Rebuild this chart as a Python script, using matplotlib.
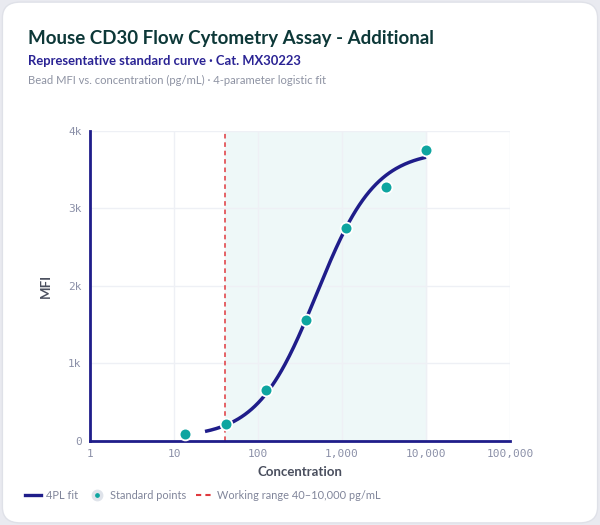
import numpy as np
import matplotlib
matplotlib.use("Agg")
import matplotlib.pyplot as plt
from matplotlib.patches import FancyBboxPatch
from matplotlib.lines import Line2D
from matplotlib.ticker import FixedLocator, FixedFormatter

# standard points (3-fold dilution series)
conc = [13.7, 41.2, 123.5, 370.4, 1111, 3333, 10000]
mfi = [86, 224, 663, 1561, 2748, 3283, 3755]

# 4PL fit parameters (bottom, slope, EC50, top) estimated from the drawn curve
fit_bottom, fit_slope, fit_ec50, fit_top = 40, 1.235, 497, 3750
fit_range = [23.4, 10000]

working_range = [40, 10000]

x_ticks = [1, 10, 100, 1000, 10000, 100000]
x_labels = ["1", "10", "100", "1,000", "10,000", "100,000"]
y_ticks = [0, 1000, 2000, 3000, 4000]
y_labels = ["0", "1k", "2k", "3k", "4k"]

navy = "#1f1d8a"
teal = "#0ea5a0"
red = "#e0393e"
tick_gray = "#8b90a8"

fig = plt.figure(figsize=(6, 5.25), dpi=100)
fig.patch.set_facecolor("#e9eaf0")
card = FancyBboxPatch((0.004, 0.004), 0.992, 0.992,
                      boxstyle="round,pad=0,rounding_size=0.03",
                      transform=fig.transFigure, facecolor="white",
                      edgecolor="#dfe1e8", linewidth=1, zorder=-1)
fig.patches.append(card)

fig.text(0.046, 0.916, "Mouse CD30 Flow Cytometry Assay - Additional",
         fontsize=13.5, fontweight="bold", color="#0d3838", family="Lato")
fig.text(0.046, 0.876, "Representative standard curve · Cat. MX30223",
         fontsize=9.4, fontweight="bold", color="#2a2394", family="Lato")
fig.text(0.046, 0.840, "Bead MFI vs. concentration (pg/mL) · 4-parameter logistic fit",
         fontsize=8.1, color="#8e93a3", family="Lato")

ax = fig.add_axes([0.15, 0.16, 0.70, 0.5905])
ax.set_facecolor("none")
ax.set_xscale("log")
ax.set_xlim(1, 100000)
ax.set_ylim(0, 4000)

ax.axvspan(working_range[0], working_range[1], color="#eef8f8", zorder=0)
ax.axvline(working_range[0], color=red, linestyle=(0, (3, 2.5)), linewidth=1.1, zorder=2)

xs = np.logspace(np.log10(fit_range[0]), np.log10(fit_range[1]), 200)
ys = fit_top + (fit_bottom - fit_top) / (1 + (xs / fit_ec50) ** fit_slope)
ax.plot(xs, ys, color=navy, linewidth=2.5, solid_capstyle="butt", zorder=3)
ax.scatter(conc, mfi, s=72, color=teal, edgecolor="white", linewidth=1.3, zorder=4)

ax.xaxis.set_major_locator(FixedLocator(x_ticks))
ax.xaxis.set_major_formatter(FixedFormatter(x_labels))
ax.xaxis.set_minor_locator(FixedLocator([]))
ax.set_yticks(y_ticks)
ax.set_yticklabels(y_labels)
ax.tick_params(length=0, labelsize=8, labelcolor=tick_gray, pad=6)
for lab in ax.get_xticklabels() + ax.get_yticklabels():
    lab.set_family("DejaVu Sans Mono")
ax.grid(True, color="#eef0f5", linewidth=1, zorder=0)
ax.set_axisbelow(True)

for side in ["top", "right"]:
    ax.spines[side].set_visible(False)
ax.spines["left"].set_color(navy)
ax.spines["left"].set_linewidth(2)
ax.spines["bottom"].set_color(navy)
ax.spines["bottom"].set_linewidth(2)

ax.set_xlabel("Concentration", fontsize=9.5, fontweight="bold", color="#4a4f5e",
              family="Lato", labelpad=5)
ax.set_ylabel("MFI", fontsize=9.5, fontweight="bold", color="#4a4f5e",
              family="Lato", labelpad=12)

handles = [
    Line2D([], [], color=navy, linewidth=2.4),
    Line2D([], [], marker="o", linestyle="none", markersize=6, markerfacecolor=teal,
           markeredgecolor="#dfe3ea", markeredgewidth=2.5),
    Line2D([], [], color=red, linestyle=(0, (2.5, 2)), linewidth=1.5),
]
labels = ["4PL fit", "Standard points", "Working range 40–10,000 pg/mL"]
leg = fig.legend(handles, labels, loc="center left", bbox_to_anchor=(0.025, 0.057),
                 ncol=3, frameon=False, fontsize=7.9, handlelength=1.5,
                 columnspacing=0.9, handletextpad=0.45)
for t in leg.get_texts():
    t.set_color("#80859a")
    t.set_family("Lato")

fig.savefig("out.png", dpi=100, facecolor=fig.get_facecolor())
